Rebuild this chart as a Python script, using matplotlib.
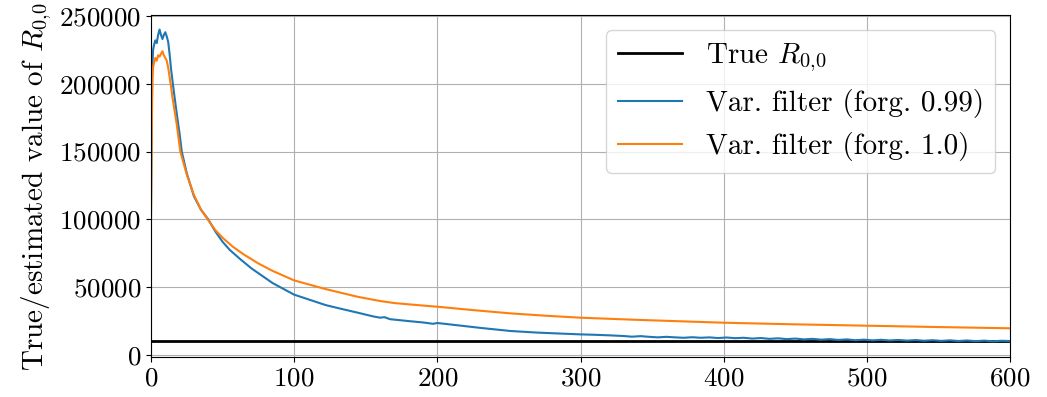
"""
Estimated R_{0,0} of the variational filter vs. the true value.
"""

import matplotlib
matplotlib.use('Agg')
import matplotlib.pyplot as plt

# true value of R_{0,0}
true_r = 10000
true_x = [0, 600]

# variational filter, forgetting factor 0.99
blue_x = [0, 0.5, 1, 1.5, 2, 3, 4, 5, 6, 7, 8, 9, 10, 11, 12, 13, 14, 16, 18,
          20, 21.5, 25, 30, 35, 40, 45, 50, 55, 62, 70, 85, 100, 110, 122, 133,
          144, 155, 160, 163, 167, 180, 190, 197, 200, 210, 230, 251, 270, 300,
          310, 320, 330, 336, 342, 348, 354, 360, 366, 372, 378, 384, 390, 396,
          402, 408, 414, 420, 426, 432, 438, 444, 450, 456, 462, 468, 474, 480,
          486, 492, 498, 504, 510, 516, 522, 528, 534, 540, 546, 552, 558, 564,
          570, 576, 582, 588, 594, 600]
blue_y = [100000, 172000, 214000, 225000, 228000, 232000, 230000, 236000,
          240000, 236000, 233000, 236000, 238000, 235000, 231000, 222000,
          211000, 194000, 178000, 163000, 150000, 134000, 117000, 107000,
          100000, 91000, 83500, 77500, 71000, 64000, 53000, 44500, 41000,
          36800, 34000, 31300, 28500, 27500, 27900, 26400, 25000, 24000,
          23000, 23600, 22400, 20000, 17700, 16500, 15200,
          14900, 14500, 14000, 13500, 13900, 13400, 13000, 13400, 13000,
          12700, 13100, 12700, 13000, 12500, 12900, 12400, 12700, 12100,
          12500, 11900, 12300, 11700, 12100, 11500, 11900, 11300, 11700,
          11100, 11500, 10900, 11300, 10800, 11200, 10700, 11100, 10600,
          11000, 10500, 10900, 10400, 10800, 10300, 10700, 10200, 10600,
          10100, 10500, 10300]

# variational filter, forgetting factor 1.0
orange_x = [0, 0.5, 1, 1.5, 2, 3, 4, 5, 6, 7, 8, 9, 10, 11, 12, 13, 14, 15,
            18, 20.5, 25, 30, 35, 40, 45, 50, 57, 65, 75, 85, 100, 122, 144,
            160, 170, 185, 200, 225, 251, 275, 300, 340, 380, 400, 450, 500,
            550, 600]
orange_y = [100000, 160000, 205000, 212000, 215000, 219000, 217000, 221000,
            220000, 222000, 224000, 221000, 219000, 217000, 212000, 205000,
            198000, 190000, 170000, 150000, 133000, 118000, 107000, 99500,
            92000, 86500, 80000, 74000, 67500, 62000, 55000, 48600, 43000,
            39800, 38300, 36900, 35600, 33100, 30700, 29000, 27500, 25900,
            24500, 23800, 22600, 21600, 20600, 19700]

plt.rcParams['font.family'] = 'cmr10'
plt.rcParams['mathtext.fontset'] = 'cm'
plt.rcParams['axes.formatter.use_mathtext'] = True
plt.rcParams['font.size'] = 19.5

fig = plt.figure(figsize=(10.47, 3.97), dpi=100)
ax = fig.add_axes([0.1442, 0.100, 0.8205, 0.8615])

ax.plot(true_x, [true_r, true_r], color='black', linewidth=2, label='True $R_{0{,}0}$')
ax.plot(blue_x, blue_y, color='#1f77b4', linewidth=1.5, label='Var. filter (forg. 0.99)')
ax.plot(orange_x, orange_y, color='#ff7f0e', linewidth=1.5, label='Var. filter (forg. 1.0)')

ax.set_xlim(0, 600)
ax.set_ylim(-1700, 250500)
ax.set_yticks([0, 50000, 100000, 150000, 200000, 250000])
ax.set_ylabel('True/estimated value of $R_{0{,}0}$', fontsize=21)
ax.grid(True)
ax.legend(loc='upper right', fontsize=21, handlelength=2.2)

fig.savefig('out.png', dpi=100)
